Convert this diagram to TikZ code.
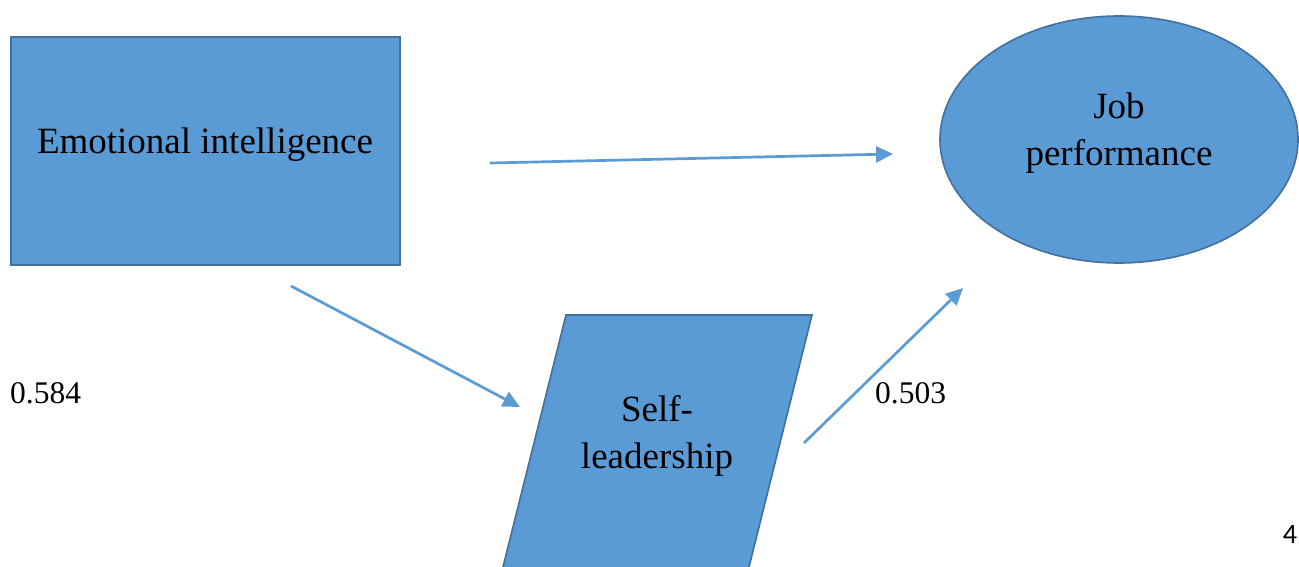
\documentclass[tikz,border=0pt]{standalone}
\usepackage{fontspec}
\setmainfont{Liberation Serif}
\newfontfamily\pagenumfont{Carlito}
\usetikzlibrary{arrows.meta,shapes.geometric}
\definecolor{boxfill}{HTML}{5B9BD5}
\definecolor{boxline}{HTML}{41719C}
\definecolor{arrowcol}{HTML}{5B9BD5}
\tikzset{
  shapebox/.style={fill=boxfill, draw=boxline, line width=1.6pt},
  linkarrow/.style={draw=arrowcol, line width=2.7pt, -{Triangle[length=17pt,width=16pt]}},
  bigtext/.style={font=\fontsize{37}{47}\selectfont, align=center, inner sep=0pt},
  labeltext/.style={font=\fontsize{31.5}{36}\selectfont, inner sep=0pt, anchor=base west},
}
\begin{document}
\begin{tikzpicture}[x=1pt,y=-1pt]
\clip (0,0) rectangle (1299,567);
\fill[white] (0,0) rectangle (1299,567);
% Emotional intelligence box
\draw[shapebox] (11,37) rectangle (400,265);
\node[bigtext] (ei) at (205,144.5) {Emotional intelligence};
% Job performance ellipse
\draw[shapebox] (1119,139.5) ellipse [x radius=179, y radius=123.5];
\node[bigtext] (jp) at (1119,133) {Job\\performance};
% Self-leadership parallelogram
\draw[shapebox] (566,315) -- (812,315) -- (740.75,600) -- (494.75,600) -- cycle;
\node[bigtext] (sl) at (657,436) {Self-\\leadership};
% connector endpoints
\coordinate (a1s) at (490,163);
\coordinate (a1e) at (893,154);
\coordinate (a2s) at (291,286);
\coordinate (a2e) at (520,407);
\coordinate (a3s) at (804,443);
\coordinate (a3e) at (963,288);
\draw[linkarrow] (a1s) -- (a1e);
\draw[linkarrow] (a2s) -- (a2e);
\draw[linkarrow] (a3s) -- (a3e);
% labels
\node[labeltext] (l1) at (10,403) {0.584};
\node[labeltext] (l2) at (875,403) {0.503};
\node[font=\pagenumfont\fontsize{28}{32}\selectfont, inner sep=0pt, anchor=base] (pg) at (1290,543) {4};
\end{tikzpicture}
\end{document}
